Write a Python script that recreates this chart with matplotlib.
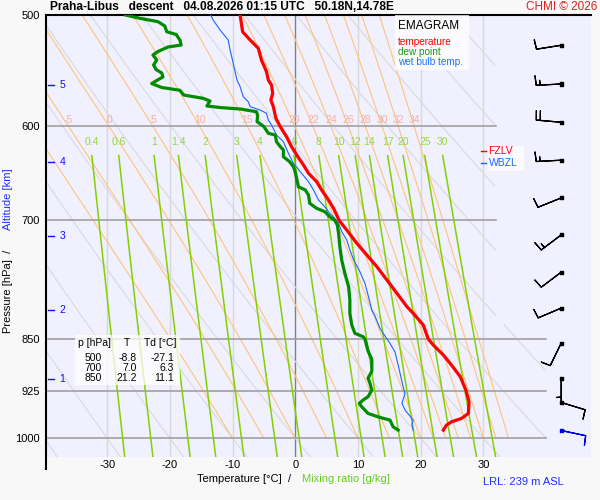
import numpy as np
import matplotlib
matplotlib.use('Agg')
import matplotlib.pyplot as plt
from matplotlib.patches import Rectangle
from matplotlib.lines import Line2D
from matplotlib.ticker import NullLocator

plt.rcParams['font.family'] = ['Liberation Sans', 'DejaVu Sans']

# ---- sounding data (T in degC, p in hPa) ----
temp_p = [500, 513.9, 520.9, 528.0, 538.2, 548.6, 556.2, 560.7, 568.4, 574.7,
          581.0, 592.1, 600.3, 610.3, 620.3, 630.6, 639.2, 647.9, 656.9, 665.9,
          676.9, 686.2, 700, 711.0, 726.6, 740.7, 755.0, 771.6, 788.6, 806.1,
          814.9, 830.6, 850, 858.3, 872.5, 886.9, 904.0, 924.2, 942.0, 960.1,
          968.0, 973.4, 978.7, 986.7]
temp_t = [-8.8, -8.4, -7.2, -5.9, -5.4, -4.6, -4.3, -3.8, -3.6, -3.9,
          -3.5, -3.1, -2.4, -1.4, -0.6, 0.4, 1.3, 2.1, 3.4, 4.2,
          5.3, 6.1, 7.0, 8.2, 9.8, 11.4, 13.0, 14.6, 16.2, 17.8,
          18.8, 20.4, 21.2, 22.0, 23.6, 24.9, 26.3, 27.2, 27.7, 27.6,
          26.5, 24.9, 24.1, 23.6]

dew_p = [500, 502.7, 505.5, 509.1, 513.9, 516.2, 520.9, 525.2, 526.9, 530.8,
         533.8, 538.2, 542.7, 546.7, 549.8, 553.4, 556.6, 559.4, 563.0, 565.6,
         570.0, 573.1, 575.6, 580.3, 581.8, 583.2, 585.8, 589.4, 595.3, 600.3,
         606.9, 608.6, 615.3, 620.3, 623.7, 630.6, 635.8, 641.0, 644.5, 653.3,
         662.4, 665.9, 671.4, 680.6, 686.2, 690.0, 695.7, 700, 705.2, 714.8,
         730.7, 746.8, 763.3, 780.2, 797.4, 815.0, 830.6, 842.0, 846.7, 850,
         866.9, 878.8, 895.8, 906.3, 913.8, 924.2, 934.2, 939.4, 944.4, 949.7,
         960.1, 965.5, 970.7, 981.4, 986.7]
dew_t = [-27.1, -24.8, -21.9, -20.8, -20.5, -19.0, -18.4, -18.2, -20.3, -21.9,
         -22.7, -22.1, -22.6, -22.2, -21.3, -21.1, -22.1, -22.9, -21.3, -18.4,
         -17.8, -14.7, -13.6, -14.1, -12.0, -8.8, -6.2, -6.0, -6.1, -5.0,
         -4.3, -3.2, -3.0, -2.4, -1.9, -1.9, -0.9, -0.3, -0.1, 0.2,
         0.5, 1.6, 2.1, 2.3, 3.4, 4.7, 5.5, 6.3, 6.7, 6.9,
         7.1, 7.4, 7.9, 8.5, 8.7, 8.7, 9.0, 9.5, 10.8, 11.1,
         11.6, 12.2, 12.2, 11.6, 11.9, 12.2, 11.6, 10.8, 10.2, 10.6,
         11.6, 13.2, 15.1, 15.6, 16.4]

wb_p = [500, 504.1, 512.4, 520.9, 529.5, 541.1, 548.6, 556.2, 562.3, 571.6,
        576.3, 581.0, 584.2, 587.3, 593.8, 598.6, 608.6, 615.3, 627.1, 637.4,
        647.9, 656.9, 665.9, 676.9, 684.4, 691.9, 697.5, 703.2, 712.9, 722.7,
        734.6, 746.8, 761.2, 775.9, 791.0, 810.6, 818.6, 835.1, 848.5, 856.0,
        868.3, 886.9, 899.0, 919.3, 929.1, 944.4, 954.8, 970.7, 978.7, 986.7]
wb_t = [-13.5, -13.1, -12.0, -10.7, -10.4, -9.9, -9.6, -9.3, -8.8, -8.3,
        -7.5, -7.2, -5.6, -4.6, -4.3, -3.8, -3.0, -1.9, -1.1, -0.3,
        1.0, 2.1, 2.9, 3.7, 4.7, 5.5, 6.3, 6.9, 7.4, 8.2,
        8.7, 9.3, 10.3, 11.1, 11.6, 12.2, 12.7, 13.5, 14.5, 15.1,
        15.9, 16.4, 16.7, 17.2, 17.5, 17.0, 17.5, 18.8, 18.6, 18.8]

# wind (direction from, deg; speed kt)
wind_p = [525.4, 559.8, 596.0, 634.2, 674.6, 716.7, 761.8, 808.0, 855.7, 906.1, 943.0, 987.3]
wind_dir = [261, 267, 275, 267, 248, 233, 233, 247, 206, 180, 107, 102]
wind_spd = [10, 15, 20, 15, 10, 15, 10, 10, 10, 5, 10, 10]

alt_km = [1, 2, 3, 4, 5]
alt_p = [907.9, 810.5, 718.0, 636.4, 561.0]

table_p = [500, 700, 850]
table_t = [-8.8, 7.0, 21.2]
table_td = [-27.1, 6.3, 11.1]

fzlv_p = 625.0
wbzl_p = 636.8

# background diagram lines
isobars = [600, 700, 850, 925, 1000]
isotherms = [-30, -20, -10, 0, 10, 20, 30]
dry_theta = list(range(-40, 110, 10))
wet_theta = [-10, -5, 0, 5, 10, 15, 20, 22, 24, 26, 28, 30, 32, 34]
mix_ratios = [0.4, 0.6, 1, 1.4, 2, 3, 4, 6, 8, 10, 12, 14, 17, 20, 25, 30]

P_TOP, P_BOT = 500, 1031.1
W, H = 600, 500


def fx(px):
    return px / W


def fy(py):
    return 1 - py / H


def tmax(p):
    return np.where(p < 830, 32.0, 40.0)


def moist_adiabat(tw, p):
    rd, cp, lv, eps = 287.04, 1005.7, 2.501e6, 0.622

    def f(pp, t):
        tc = t - 273.15
        es = 6.112 * np.exp(17.67 * tc / (tc + 243.5))
        rs = eps * es / (pp - es)
        return (rd * t + lv * rs) / (pp * (cp + lv * lv * rs * eps / (rd * t * t)))

    out = [tw + 273.15]
    for i in range(1, len(p)):
        h = p[i] - p[i - 1]
        t = out[-1]
        k1 = f(p[i - 1], t)
        k2 = f(p[i - 1] + h / 2, t + h * k1 / 2)
        k3 = f(p[i - 1] + h / 2, t + h * k2 / 2)
        k4 = f(p[i], t + h * k3)
        out.append(t + h * (k1 + 2 * k2 + 2 * k3 + k4) / 6)
    return np.array(out) - 273.15


def mixing_t(w, p):
    e = (w / 1000.0) * p / (0.622 + w / 1000.0)
    a = np.log(e / 6.112)
    return 243.5 * a / (17.67 - a)


fig = plt.figure(figsize=(6, 5), dpi=100, facecolor='#f8f8f8')
ax = fig.add_axes([fx(45.7), fy(457), (591 - 45.7) / W, 442 / H])
ax.set_facecolor('#f0f0fe')
ax.set_yscale('log')
ax.set_xlim(-39.8, 47.15)
ax.set_ylim(P_BOT, P_TOP)

pp = np.linspace(P_TOP, P_BOT, 300)

# isotherms
for t in isotherms:
    ax.plot([t, t], [P_TOP, P_BOT], color='#808080' if t == 0 else '#d8d8d8',
            lw=1.0, zorder=1)

# isobars
for p in isobars:
    ax.plot([-39.8, float(tmax(np.array(p)))], [p, p], color='#a0a0a0', lw=1.2, zorder=2)

# dry adiabats
for th in dry_theta:
    t = (th + 273.15) * (pp / 1000.0) ** 0.2857 - 273.15
    t = np.where(t > tmax(pp), np.nan, t)
    ax.plot(t, pp, color='#dadada', lw=0.8, zorder=1)

# saturated adiabats
pw = np.linspace(1000, P_TOP, 201)
for tw in wet_theta:
    t = moist_adiabat(tw, pw)
    ax.plot(t, pw, color='#ffc47a', lw=0.8, zorder=1)
    if tw >= -5:
        t600 = np.interp(600, pw[::-1], t[::-1])
        ax.text(t600, 594, f'{tw}', color='#f7b0a0', fontsize=7.5,
                ha='center', va='center', zorder=3)

# mixing ratio lines
pm = np.linspace(629.5, P_BOT, 100)
for w in mix_ratios:
    ax.plot(mixing_t(w, pm), pm, color='#84d000', lw=1.1, zorder=2)
    ax.text(mixing_t(w, 629.5), 616, f'{w:g}', color='#94d840', fontsize=7.5,
            ha='center', va='center', zorder=3)

# profiles
ax.plot(wb_t, wb_p, color='#1a66ff', lw=0.8, zorder=5)
ax.plot(dew_t, dew_p, color='#008c00', lw=2.3, zorder=6)
ax.plot(temp_t, temp_p, color='#ff0000', lw=2.3, zorder=7)

# wind barbs
d = np.radians(wind_dir)
u = -np.array(wind_spd) * np.sin(d)
v = -np.array(wind_spd) * np.cos(d)
bx = np.full(len(wind_p), 42.4)
cols = ['black'] * (len(wind_p) - 1) + ['#0000ee']
ax.barbs(bx, wind_p, u, v, length=6.0, color=cols, lw=0.9, pivot='tip',
         sizes=dict(height=0.38, spacing=0.16, width=0.06, emptybarb=0),
         zorder=8, clip_on=False)
ax.scatter(bx, wind_p, marker='s', s=5, c=cols, zorder=9)

# altitude ticks
for km, p in zip(alt_km, alt_p):
    ax.plot([-39.4, -38.4], [p, p], color='#1010ff', lw=1.0, zorder=4)
    ax.text(-37.6, p, str(km), color='#1010ff', fontsize=7.5, va='center', ha='left', zorder=4)

# FZLV / WBZL
ax.add_patch(Rectangle((30.8, 645), 5.7, -25, facecolor='white', edgecolor='none',
                       alpha=0.8, zorder=4))
ax.plot([29.6, 30.4], [fzlv_p, fzlv_p], color='red', lw=1.0, zorder=5)
ax.text(30.8, fzlv_p, 'FZLV', color='red', fontsize=7.5, va='center', ha='left', zorder=5)
ax.plot([29.6, 30.4], [wbzl_p, wbzl_p], color='#2266ff', lw=1.0, zorder=5)
ax.text(30.8, wbzl_p, 'WBZL', color='#2266ff', fontsize=7.5, va='center', ha='left', zorder=5)

# axes styling
ax.set_yticks([500, 600, 700, 850, 925, 1000])
ax.set_yticklabels(['500', '600', '700', '850', '925', '1000'])
ax.yaxis.set_minor_locator(NullLocator())
ax.set_xticks([-30, -20, -10, 0, 10, 20, 30])
ax.set_xticklabels(['-30', '-20', '-10', '0', '10', '20', '30'])
ax.tick_params(length=0, labelsize=8)
ax.tick_params(axis='y', pad=4)
ax.tick_params(axis='x', pad=2)
for s in ['left', 'right', 'bottom']:
    ax.spines[s].set_visible(False)
ax.spines['top'].set_linewidth(1.5)
fig.add_artist(Line2D([fx(45.7), fx(45.7)], [fy(15), fy(469)], color='black', lw=1.5))

# legend box
fig.patches.append(Rectangle((fx(395), fy(70)), 74 / W, 55 / H, transform=fig.transFigure,
                             facecolor='white', edgecolor='none', alpha=0.75, zorder=2))
fig.text(fx(398), fy(26), 'EMAGRAM', fontsize=8.5, va='center', ha='left')
fig.text(fx(398), fy(42), 'temperature', fontsize=7.2, color='red', va='center')
fig.text(fx(398), fy(52), 'dew point', fontsize=7.2, color='#1a9a1a', va='center')
fig.text(fx(398), fy(62), 'wet bulb temp.', fontsize=7.2, color='#2070ff', va='center')

# table box
fig.patches.append(Rectangle((fx(75), fy(385)), 105 / W, 50 / H, transform=fig.transFigure,
                             facecolor='white', edgecolor='none', alpha=0.75, zorder=2))
fig.text(fx(78), fy(343), 'p [hPa]', fontsize=7.5, va='center')
fig.text(fx(127), fy(343), 'T', fontsize=7.5, va='center', ha='center')
fig.text(fx(144), fy(343), 'Td [°C]', fontsize=7.5, va='center')
for i, (p, t, td) in enumerate(zip(table_p, table_t, table_td)):
    yy = 358 + 10 * i
    fig.text(fx(102), fy(yy), f'{p}', fontsize=7.5, va='center', ha='right')
    fig.text(fx(137), fy(yy), f'{t:.1f}', fontsize=7.5, va='center', ha='right')
    fig.text(fx(174), fy(yy), f'{td:.1f}', fontsize=7.5, va='center', ha='right')

# titles and labels
fig.text(fx(50), fy(7), 'Praha-Libus   descent   04.08.2026 01:15 UTC   50.18N,14.78E',
         fontsize=8.6, fontweight='bold', va='center', ha='left')
fig.text(fx(597), fy(7), 'CHMI © 2026', fontsize=8.5, color='#e02020', va='center', ha='right')
fig.text(fx(8), fy(333), 'Pressure [hPa]  /', fontsize=8, rotation=90, ha='center', va='bottom')
fig.text(fx(8), fy(168), 'Altitude [km]', fontsize=8, rotation=90, ha='center', va='top',
         color='#2030ff')
fig.text(fx(197), fy(479), 'Temperature [°C]  /', fontsize=8, va='center', ha='left')
fig.text(fx(302), fy(479), 'Mixing ratio [g/kg]', fontsize=8, va='center', ha='left',
         color='#66cc22')
fig.text(fx(483), fy(482), 'LRL: 239 m ASL', fontsize=8, va='center', ha='left', color='#2030ff')

fig.savefig('out.png', dpi=100, facecolor=fig.get_facecolor())
